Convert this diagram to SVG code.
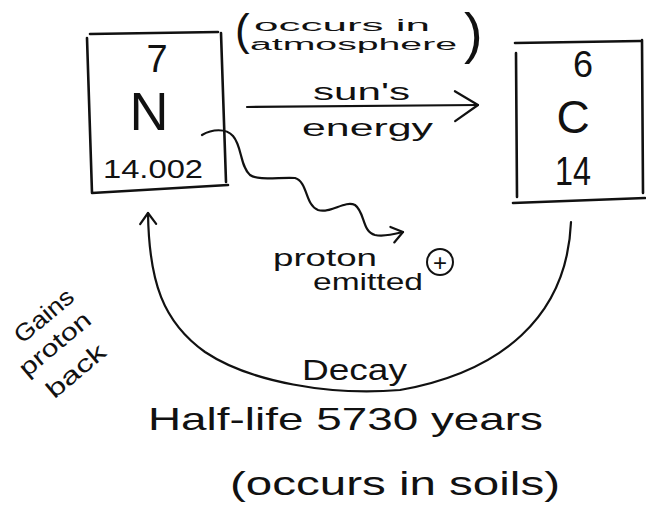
<svg xmlns="http://www.w3.org/2000/svg" width="646" height="512" viewBox="0 0 646 512">
  <style>
    .t { font-family: "Liberation Sans", "DejaVu Sans", sans-serif; fill: #111; }
    .box { fill: none; stroke: #111; stroke-width: 2.6; stroke-linecap: round; stroke-linejoin: round; }
    .ln { fill: none; stroke: #111; stroke-width: 2.2; stroke-linecap: round; stroke-linejoin: round; }
  </style>
  <defs>
    <marker id="bigHead" markerUnits="userSpaceOnUse" viewBox="-26 -20 30 40" markerWidth="30" markerHeight="40" refX="0" refY="0" orient="auto">
      <path d="M-23,-14 L0,0 L-23,16" fill="none" stroke="#111" stroke-width="2.2" stroke-linecap="round" stroke-linejoin="round"/>
    </marker>
    <marker id="smallHead" markerUnits="userSpaceOnUse" viewBox="-14 -12 18 24" markerWidth="18" markerHeight="24" refX="0" refY="0" orient="auto">
      <path d="M-11,-8 L0,0 L-11,8" fill="none" stroke="#111" stroke-width="2.2" stroke-linecap="round" stroke-linejoin="round"/>
    </marker>
  </defs>
  <rect x="0" y="0" width="646" height="512" fill="#ffffff"/>

  <g id="node-N">
    <path class="box" d="M90,34 L218,32 M87,38 L92,193 M221,33 L226,182 M92,193 L228,185"/>
    <text class="t" x="157" y="72" font-size="38" text-anchor="middle">7</text>
    <text class="t" x="149" y="130" font-size="54" text-anchor="middle">N</text>
    <text class="t" x="153" y="178" font-size="26" text-anchor="middle" textLength="100" lengthAdjust="spacingAndGlyphs">14.002</text>
  </g>

  <g id="node-C">
    <path class="box" d="M515,43 L640,41 M516,53 L517,197 M642,40 L643,193 M513,203 L645,198"/>
    <text class="t" x="583" y="77" font-size="36" text-anchor="middle">6</text>
    <text class="t" x="573" y="133" font-size="46" text-anchor="middle">C</text>
    <text class="t" x="573" y="185" font-size="40" text-anchor="middle" textLength="36" lengthAdjust="spacingAndGlyphs">14</text>
  </g>

  <g id="connectors">
    <path class="ln" d="M247,107 L478,105" marker-end="url(#bigHead)"/>
    <path class="ln" d="M202,135 C212,129 226,128 233,136 C242,146 240,166 250,175 C258,181 280,177 295,178 C308,182 305,205 318,210 C330,214 345,200 355,205 C365,212 362,232 375,235 C385,237 395,234 403,232" marker-end="url(#smallHead)"/>
    <path class="ln" d="M571,222 C567,318 500,372 400,390 C330,396 250,382 205,352 C163,322 149,282 148,213" marker-end="url(#smallHead)"/>
  </g>

  <g id="labels">
    <text class="t" x="235" y="45" font-size="44">(</text>
    <text class="t" x="254" y="31" font-size="16" textLength="176" lengthAdjust="spacingAndGlyphs">occurs in</text>
    <text class="t" x="250" y="50" font-size="16" textLength="207" lengthAdjust="spacingAndGlyphs">atmosphere</text>
    <text class="t" x="464" y="52" font-size="56">)</text>

    <text class="t" x="313" y="100" font-size="24" textLength="97" lengthAdjust="spacingAndGlyphs">sun's</text>
    <text class="t" x="302" y="136" font-size="24" textLength="131" lengthAdjust="spacingAndGlyphs">energy</text>

    <text class="t" x="273" y="266" font-size="24" textLength="104" lengthAdjust="spacingAndGlyphs">proton</text>
    <text class="t" x="313" y="290" font-size="24" textLength="110" lengthAdjust="spacingAndGlyphs">emitted</text>
    <g id="plus-charge">
      <circle cx="440" cy="262" r="13" fill="none" stroke="#111" stroke-width="2"/>
      <text class="t" x="440" y="271" font-size="24" text-anchor="middle">+</text>
    </g>

    <text class="t" x="302" y="380" font-size="30" textLength="105" lengthAdjust="spacingAndGlyphs">Decay</text>
    <text class="t" x="148" y="430" font-size="32" textLength="395" lengthAdjust="spacingAndGlyphs">Half-life  5730 years</text>
    <text class="t" x="230" y="495" font-size="34" textLength="330" lengthAdjust="spacingAndGlyphs">(occurs  in  soils)</text>

    <text class="t" x="49" y="322" font-size="24" text-anchor="middle" transform="rotate(-40 49 322)" textLength="70" lengthAdjust="spacingAndGlyphs">Gains</text>
    <text class="t" x="60" y="350" font-size="24" text-anchor="middle" transform="rotate(-40 60 350)" textLength="86" lengthAdjust="spacingAndGlyphs">proton</text>
    <text class="t" x="81" y="377" font-size="24" text-anchor="middle" transform="rotate(-40 81 377)" textLength="70" lengthAdjust="spacingAndGlyphs">back</text>
  </g>
</svg>
